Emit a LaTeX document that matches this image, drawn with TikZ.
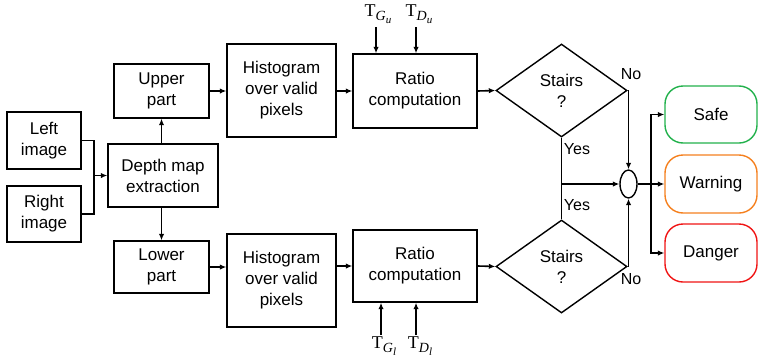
\documentclass[tikz,border=0pt]{standalone}
\usepackage{fontspec}
\setmainfont{Liberation Sans}
\newfontfamily\serifface{Liberation Serif}
\usetikzlibrary{arrows.meta,shapes.geometric}
\definecolor{safegreen}{RGB}{34,177,76}
\definecolor{warnorange}{RGB}{245,128,30}
\definecolor{dangerred}{RGB}{240,20,20}
% threshold symbol: serif T with an italic subscript and sub-subscript
\newcommand{\thrsym}[2]{{\serifface T}\raisebox{-4pt}{\fontsize{14}{14}\selectfont\serifface\itshape #1\raisebox{-3pt}{\fontsize{11}{11}\selectfont #2}}}
\begin{document}
\begin{tikzpicture}[x=1pt,y=-1pt,
  every node/.style={font=\fontsize{17}{21}\selectfont},
  block/.style={draw,line width=1.4pt,rectangle,inner sep=0pt,align=center},
  decision/.style={draw,line width=1.4pt,diamond,inner sep=0pt,align=center,
    aspect=1.41,minimum width=131pt,minimum height=93pt},
  outcome/.style={draw,line width=1.4pt,rectangle,rounded corners=18pt,inner sep=0pt,
    minimum width=92pt,minimum height=57pt,align=center},
  thr/.style={inner sep=1pt,font=\fontsize{18}{20}\selectfont},
  lbl/.style={inner sep=0pt,font=\fontsize{16}{18}\selectfont},
  wire/.style={line width=1.6pt},
  arr/.style={line width=1.6pt,-{Latex[length=6.5pt,width=5.5pt]}}]
\useasboundingbox (0,0) rectangle (759,359);

% input images and depth extraction
\node[block,minimum width=74pt,minimum height=57pt] (left) at (44,140.5) {Left\\image};
\node[block,minimum width=74pt,minimum height=56pt] (right) at (44,214) {Right\\image};
\node[block,minimum width=110pt,minimum height=63pt] (depth) at (163,175.5) {Depth map\\extraction};

% upper branch
\node[block,minimum width=95pt,minimum height=54pt] (upper) at (161.5,91) {Upper\\part};
\node[block,minimum width=109pt,minimum height=93pt] (histU) at (281.5,90.5) {Histogram\\over valid\\pixels};
\node[block,minimum width=124pt,minimum height=74pt] (ratioU) at (415,91) {Ratio\\computation};
\node[decision] (diamU) at (561.5,90.5) {Stairs\\?};

% lower branch
\node[block,minimum width=95pt,minimum height=52pt] (lower) at (161.5,267) {Lower\\part};
\node[block,minimum width=109pt,minimum height=93pt] (histL) at (281.5,280.5) {Histogram\\over valid\\pixels};
\node[block,minimum width=124pt,minimum height=72pt] (ratioL) at (415,266) {Ratio\\computation};
\node[decision] (diamL) at (561.5,266.5) {Stairs\\?};

% thresholds
\node[thr] (tGu) at (378,14) {\thrsym{G}{u}};
\node[thr] (tDu) at (419,14) {\thrsym{D}{u}};
\node[thr] (tGl) at (384,346) {\thrsym{G}{l}};
\node[thr] (tDl) at (420,346) {\thrsym{D}{l}};

% merge and outcomes
\node[draw,line width=1.4pt,ellipse,inner sep=0pt,minimum width=17pt,minimum height=28pt] (merge) at (628.5,184) {};
\node[outcome,draw=safegreen] (safe) at (711,114.5) {Safe};
\node[outcome,draw=warnorange,minimum height=58pt] (warn) at (711,184) {Warning};
\node[outcome,draw=dangerred,minimum height=58pt] (danger) at (711,253) {Danger};

% connectors
\coordinate (join) at (94,175.5);
\draw[wire] (left.east) -| (join) |- (right.east);
\draw[arr] (join) -- (depth.west);
\draw[arr] (upper.south |- depth.north) -- (upper.south);
\draw[arr] (lower.north |- depth.south) -- (lower.north);

\draw[arr] (upper.east) -- (upper.east -| histU.west);
\draw[arr] (histU.east |- ratioU.west) -- (ratioU.west);
\draw[arr] (ratioU.east) -- (diamU.west);

\draw[arr] (lower.east) -- (lower.east -| histL.west);
\draw[arr] (histL.east |- ratioL.west) -- (ratioL.west);
\draw[arr] (ratioL.east) -- (diamL.west);

\draw[arr] (376,27) -- (ratioU.north -| 376,0);
\draw[arr] (416,27) -- (ratioU.north -| 416,0);
\draw[arr] (381,335) -- (ratioL.south -| 381,0);
\draw[arr] (416,335) -- (ratioL.south -| 416,0);

\draw[arr] (diamU.east) -| (merge.north);
\draw[arr] (diamL.east) -| (merge.south);
\draw[wire] (diamU.south) -- (diamL.north);
\draw[arr] (diamU.south |- merge.west) -- (merge.west);

\coordinate (fork) at (651,184);
\draw[arr] (merge.east) -- (warn.west);
\draw[arr] (fork) |- (safe.west);
\draw[arr] (fork) |- (danger.west);

% decision labels
\node[lbl] (noU) at (631,74) {No};
\node[lbl] (noL) at (631,279) {No};
\node[lbl] (yesU) at (577,149) {Yes};
\node[lbl] (yesL) at (577,205) {Yes};
\end{tikzpicture}
\end{document}
